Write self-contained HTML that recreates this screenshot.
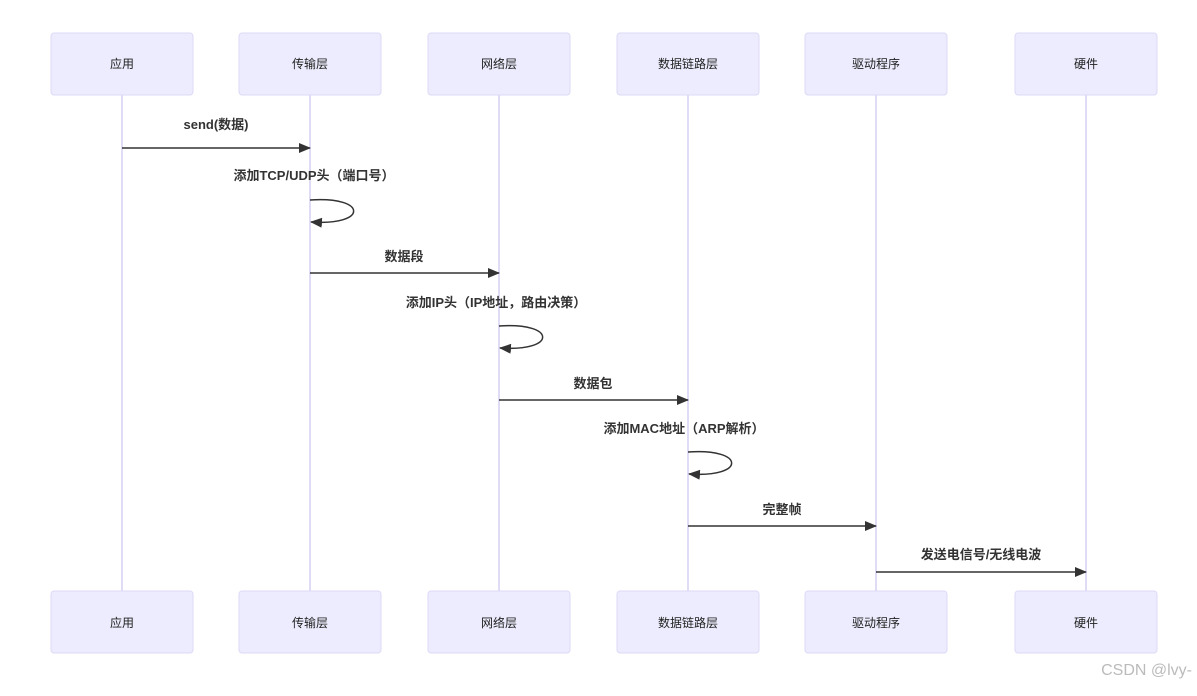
<!DOCTYPE html>
<html><head><meta charset="utf-8"><style>
body{margin:0;background:#fff;}
svg text{font-family:"Liberation Sans","Noto Sans CJK SC",sans-serif;}
</style></head><body>
<svg width="1197" height="691" viewBox="0 0 1197 691" xmlns="http://www.w3.org/2000/svg">
<defs><marker id="a" markerWidth="12" markerHeight="10" refX="11" refY="5" orient="auto" markerUnits="userSpaceOnUse"><path d="M0,0 L12,5 L0,10 z" fill="#333"/></marker></defs>
<g stroke="#d6d0f2" stroke-width="1.5">
<line x1="122" y1="95" x2="122" y2="591"/><line x1="310" y1="95" x2="310" y2="591"/><line x1="499" y1="95" x2="499" y2="591"/><line x1="688" y1="95" x2="688" y2="591"/><line x1="876" y1="95" x2="876" y2="591"/><line x1="1086" y1="95" x2="1086" y2="591"/>
</g>
<g fill="#ececfe" stroke="#dcdaf6" stroke-width="1">
<rect x="51" y="33" width="142" height="62" rx="3"/><rect x="239" y="33" width="142" height="62" rx="3"/><rect x="428" y="33" width="142" height="62" rx="3"/><rect x="617" y="33" width="142" height="62" rx="3"/><rect x="805" y="33" width="142" height="62" rx="3"/><rect x="1015" y="33" width="142" height="62" rx="3"/>
<rect x="51" y="591" width="142" height="62" rx="3"/><rect x="239" y="591" width="142" height="62" rx="3"/><rect x="428" y="591" width="142" height="62" rx="3"/><rect x="617" y="591" width="142" height="62" rx="3"/><rect x="805" y="591" width="142" height="62" rx="3"/><rect x="1015" y="591" width="142" height="62" rx="3"/>
</g>
<g font-size="12" fill="#222" text-anchor="middle">
<text x="122" y="68">应用</text><text x="310" y="68">传输层</text><text x="499" y="68">网络层</text><text x="688" y="68">数据链路层</text><text x="876" y="68">驱动程序</text><text x="1086" y="68">硬件</text>
<text x="122" y="627">应用</text><text x="310" y="627">传输层</text><text x="499" y="627">网络层</text><text x="688" y="627">数据链路层</text><text x="876" y="627">驱动程序</text><text x="1086" y="627">硬件</text>
</g>
<g font-size="13" font-weight="bold" fill="#333" text-anchor="middle">
<text x="216" y="129">send(数据)</text>
<text x="314" y="180">添加TCP/UDP头（端口号）</text>
<text x="404" y="261">数据段</text>
<text x="496" y="307">添加IP头（IP地址，路由决策）</text>
<text x="593" y="388">数据包</text>
<text x="684" y="433">添加MAC地址（ARP解析）</text>
<text x="782" y="514">完整帧</text>
<text x="981" y="559">发送电信号/无线电波</text>
</g>
<g stroke="#333" stroke-width="1.5" fill="none" marker-end="url(#a)">
<line x1="122" y1="148" x2="310" y2="148"/>
<path d="M310,200 C368,196 368,226 311,222"/>
<line x1="310" y1="273" x2="499" y2="273"/>
<path d="M499,326 C557,322 557,352 500,348"/>
<line x1="499" y1="400" x2="688" y2="400"/>
<path d="M688,452 C746,448 746,478 689,474"/>
<line x1="688" y1="526" x2="876" y2="526"/>
<line x1="876" y1="572" x2="1086" y2="572"/>
</g>
<text x="1192" y="675" font-size="16" fill="#bbb" text-anchor="end">CSDN @lvy-</text>
</svg>
</body></html>
